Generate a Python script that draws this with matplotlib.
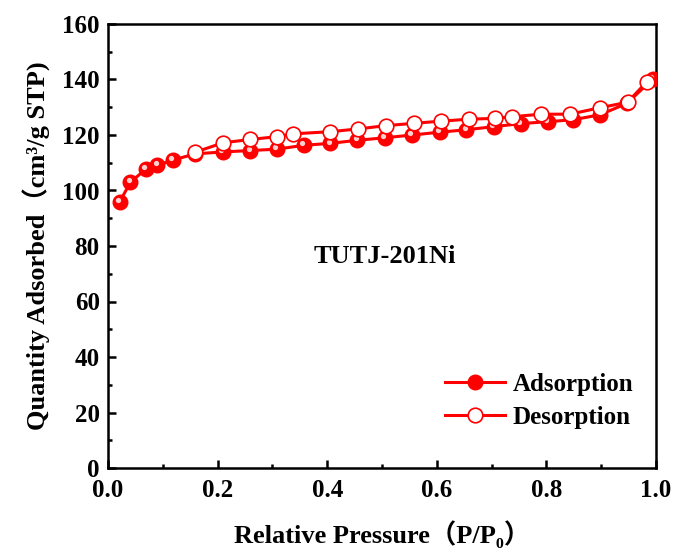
import matplotlib
matplotlib.use("Agg")
import matplotlib.pyplot as plt
import matplotlib.transforms as mtransforms
from matplotlib.ticker import MultipleLocator

# isotherm data
ads_p = [0.021, 0.041, 0.069, 0.090, 0.119, 0.159, 0.210, 0.260, 0.308, 0.358,
         0.406, 0.455, 0.505, 0.555, 0.605, 0.654, 0.704, 0.753, 0.803, 0.849,
         0.898, 0.947, 0.994]
ads_q = [95.8, 103.0, 107.7, 109.1, 111.0, 113.2, 113.9, 114.4, 114.9, 116.3,
         117.0, 118.1, 119.0, 120.0, 121.0, 121.9, 123.0, 124.1, 124.8, 125.5,
         127.3, 131.4, 140.2]

des_p = [0.983, 0.948, 0.897, 0.843, 0.790, 0.738, 0.707, 0.659, 0.608, 0.558,
         0.508, 0.457, 0.406, 0.337, 0.308, 0.260, 0.210, 0.159]
des_q = [139.1, 131.8, 129.8, 127.5, 127.5, 126.6, 126.0, 125.7, 125.0, 124.2,
         123.4, 122.2, 121.2, 120.4, 119.4, 118.4, 117.2, 113.8]

sample_name = "TUTJ-201Ni"

fam = ["Liberation Serif", "DejaVu Serif", "Noto Sans CJK SC"]
plt.rcParams["font.family"] = fam
plt.rcParams["font.weight"] = "bold"
plt.rcParams["font.size"] = 18

fig = plt.figure(figsize=(6.78, 5.57), dpi=100)
ax = fig.add_axes([108 / 678, 1 - 468 / 557, 548 / 678, 444 / 557])

red = "#ff0000"
ax.plot(ads_p, ads_q, "-o", color=red, lw=2.2, ms=10.5, mfc=red, mec=red,
        label="Adsorption", zorder=3)
# small highlight to mimic the shaded spheres
hl = mtransforms.offset_copy(ax.transData, fig=fig, x=-1.3, y=1.3, units="points")
ax.plot(ads_p, ads_q, "o", color="#ffd0d0", ms=3.8, mec="none",
        transform=hl, zorder=4)
ax.plot(des_p, des_q, "-o", color=red, lw=2.2, ms=10.5, mfc="white", mec=red,
        mew=1.2, label="Desorption", zorder=5)

ax.set_xlim(0, 1.0)
ax.set_ylim(0, 160)
ax.xaxis.set_major_locator(MultipleLocator(0.2))
ax.xaxis.set_minor_locator(MultipleLocator(0.1))
ax.yaxis.set_major_locator(MultipleLocator(20))
ax.yaxis.set_minor_locator(MultipleLocator(10))
ax.tick_params(which="both", direction="in", width=1.8, labelsize=18)
ax.tick_params(axis="x", pad=8)
ax.tick_params(axis="y", pad=6)
ax.tick_params(which="major", length=6)
ax.tick_params(which="minor", length=3)
for s in ax.spines.values():
    s.set_linewidth(1.8)

ax.set_xlabel("Relative Pressure（P/P₀）", fontsize=19, fontweight="bold",
              labelpad=13)
ax.set_ylabel("Quantity Adsorbed（cm³/g STP)", fontsize=19, fontweight="bold",
              labelpad=8)

ax.text(0.505, 0.476, sample_name, transform=ax.transAxes, ha="center",
        va="center", fontsize=19, fontweight="bold")

ax.legend(loc="lower right", bbox_to_anchor=(1.0, 0.038), frameon=False,
          handlelength=2.4, labelspacing=0.38, handletextpad=0.3,
          prop={"family": fam, "weight": "bold", "size": 18})

fig.savefig("out.png", dpi=100)
